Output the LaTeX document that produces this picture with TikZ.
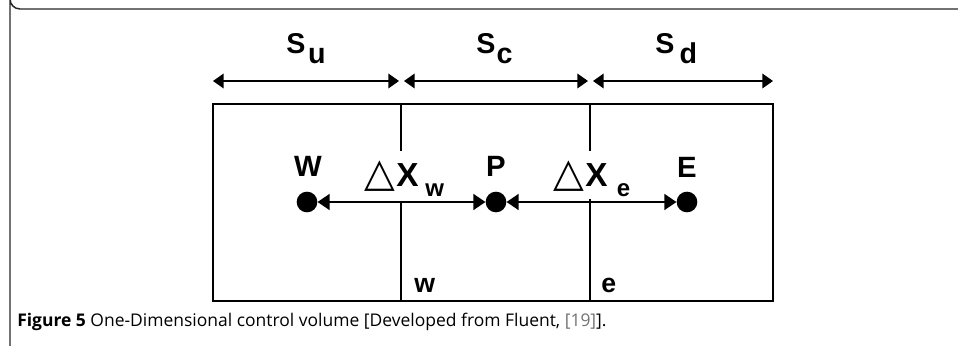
\documentclass[tikz,border=0pt]{standalone}
\usepackage{fontspec}
\setmainfont{Liberation Sans}
\newfontfamily\capfont{Open Sans}
\newfontfamily\symfont{DejaVu Sans}
\usetikzlibrary{arrows.meta}
\begin{document}
\begin{tikzpicture}[x=0.75pt,y=-0.75pt,
  dimarrow/.style={line width=1.1pt,{Triangle[length=8pt,width=11pt]}-{Triangle[length=8pt,width=11pt]}},
  ptarrow/.style={line width=1.1pt,{Triangle[length=9pt,width=12pt]}-{Triangle[length=9pt,width=12pt]}},
  wall/.style={line width=2.2pt},
  bigl/.style={font=\fontsize{21.5}{21.5}\selectfont\bfseries, inner sep=0pt, anchor=base west},
  ptl/.style={font=\fontsize{22}{22}\selectfont\bfseries, inner sep=0pt, anchor=base},
  facel/.style={font=\fontsize{20}{20}\selectfont\bfseries, inner sep=0pt, anchor=base west},
  dxl/.style={inner sep=0pt, anchor=base west},
  dot/.style={circle, fill=black, minimum size=15.5pt, inner sep=0pt}]
\useasboundingbox (0,0) rectangle (958,346);
% outer frame
\draw[black!85, line width=1.1pt] (958,9) -- (20,9) arc[start angle=90,end angle=180,radius=10] -- (10,346);
% dimension arrows
\coordinate (a0) at (213,81);
\coordinate (a1) at (399,81);
\coordinate (a2) at (404,81);
\coordinate (a3) at (588,81);
\coordinate (a4) at (593,81);
\coordinate (a5) at (773,81);
\draw[dimarrow] (a0) -- (a1);
\draw[dimarrow] (a2) -- (a3);
\draw[dimarrow] (a4) -- (a5);
\node[bigl] (su) at (286,54) {S\kern2pt\raisebox{-7pt}{u}};
\node[bigl] (sc) at (476,54) {S\kern1pt\raisebox{-7pt}{c}};
\node[bigl] (sd) at (655,54) {S\kern4pt\raisebox{-7pt}{d}};
% box
\draw[wall] (213,104) rectangle (773,301);
\draw[wall] (401,104) -- (401,151);
\draw[wall] (401,201) -- (401,301);
\draw[wall] (590,104) -- (590,151);
\draw[wall] (590,199) -- (590,301);
% points
\node[dot] (W) at (307,202) {};
\node[dot] (P) at (496,202) {};
\node[dot] (E) at (687,202) {};
\draw[ptarrow] (W.east) -- (P.west);
\draw[ptarrow] (P.east) -- (E.west);
\node[ptl] (lW) at (308,176) {W};
\node[ptl] (lP) at (496,176) {P};
\node[ptl] (lE) at (687,177) {E};
\node[dxl] (dxw) at (364,186) {{\symfont\bfseries\fontsize{30}{30}\selectfont △}\kern1pt{\bfseries\fontsize{25}{25}\selectfont X}\kern5pt\raisebox{-8pt}{\bfseries\fontsize{18}{18}\selectfont w}};
\node[dxl] (dxe) at (553,186) {{\symfont\bfseries\fontsize{30}{30}\selectfont △}\kern1pt{\bfseries\fontsize{25}{25}\selectfont X}\kern7pt\raisebox{-8pt}{\bfseries\fontsize{18}{18}\selectfont e}};
\node[facel] (fw) at (414,292) {w};
\node[facel] (fe) at (601,292) {e};
% caption
\node[anchor=west, inner sep=0pt, font=\capfont\fontsize{13.1}{13.1}\selectfont] (cap) at (17,322)
  {\textbf{Figure 5} One-Dimensional control volume [Developed from Fluent, \textcolor{black!55}{[19]}].};
\end{tikzpicture}
\end{document}
